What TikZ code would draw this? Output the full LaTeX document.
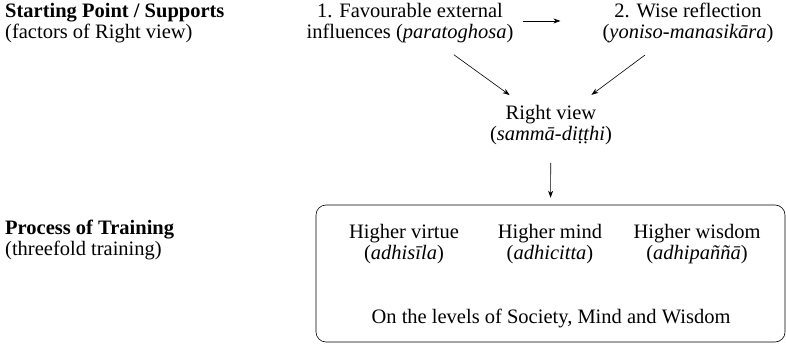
\documentclass[tikz,border=0pt]{standalone}
\usepackage{fontspec}
\setmainfont{Liberation Serif}
\usetikzlibrary{arrows.meta}

\tikzset{
    heading/.style={anchor=west, align=left, inner sep=0pt},
    term/.style={align=center, inner sep=0pt},
    arr/.style={-{Stealth[length=7pt,width=5pt]}, semithick}
}

\begin{document}
\begin{tikzpicture}[x=1pt, y=-1pt, font=\fontsize{20.5}{21}\selectfont]
    % Fix the canvas
    \useasboundingbox (0,0) rectangle (786,344);

    % Row headings on the left
    \node[heading] (start) at (5,23) {\textbf{Starting Point / Supports}\\(factors of Right view)};
    \node[heading] (process) at (5,240) {\textbf{Process of Training}\\(threefold training)};

    % The two supports
    \node[term] (outer) at (410,23) {1. Favourable external\\influences (\textit{paratoghosa})};
    \node[term] (wise) at (688,23) {2. Wise reflection\\(\textit{yoniso-manasikāra})};

    % Right view
    \node[term] (view) at (551,125) {Right view\\(\textit{sammā-diṭṭhi})};

    % The training box and its three parts
    \node[draw, semithick, rounded corners=10pt, minimum width=469pt, minimum height=137pt] (train) at (550.5,273.5) {};
    \node[term] (virtue) at (404,244) {Higher virtue\\(\textit{adhisīla})};
    \node[term] (mind) at (550,244) {Higher mind\\(\textit{adhicitta})};
    \node[term] (wisdom) at (697,244) {Higher wisdom\\(\textit{adhipaññā})};
    \node[term] (levels) at (551,318) {On the levels of Society, Mind and Wisdom};

    % Connectors
    \draw[arr, shorten <=9pt, shorten >=42pt] ([yshift=2pt]outer.east) -- ([yshift=2pt]wise.west);
    \draw[arr, shorten <=20pt, shorten >=17pt] (outer) -- (view);
    \draw[arr, shorten <=20pt, shorten >=17pt] (wise) -- (view);
    \draw[arr, shorten <=18pt, shorten >=7pt] (view) -- (train.north);
\end{tikzpicture}
\end{document}
